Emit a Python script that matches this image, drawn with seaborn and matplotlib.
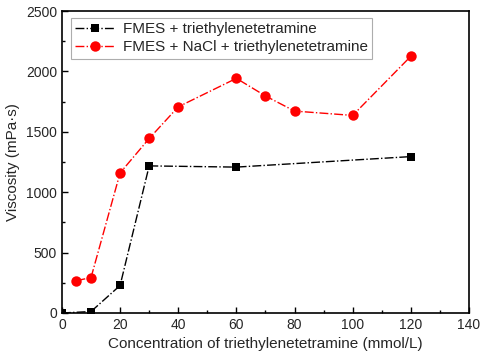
import numpy as np
import pandas as pd
import matplotlib
matplotlib.use("Agg")
import matplotlib.pyplot as plt
from matplotlib.ticker import MultipleLocator
import seaborn as sns

# data
conc_black = [0, 10, 20, 30, 60, 120]
visc_black = [0, 12, 228, 1218, 1208, 1295]
conc_red = [5, 10, 20, 30, 40, 60, 70, 80, 100, 120]
visc_red = [268, 293, 1160, 1445, 1707, 1943, 1797, 1672, 1636, 2126]
label_black = "FMES + triethylenetetramine"
label_red = "FMES + NaCl + triethylenetetramine"

sns.set_style("ticks")
plt.rcParams['font.family'] = ['Liberation Sans', 'DejaVu Sans']

fig = plt.figure(figsize=(4.84, 3.62), dpi=100)
ax = fig.add_axes([0.128, 0.1354, 0.841, 0.834])

sns.lineplot(x=conc_black, y=visc_black, ax=ax, color="black", linestyle="-.",
             marker="s", markersize=6, markeredgewidth=0, linewidth=1,
             label=label_black)
sns.lineplot(x=conc_red, y=visc_red, ax=ax, color="red", linestyle="-.",
             marker="o", markersize=7.5, markeredgewidth=0, linewidth=1,
             label=label_red)

ax.set_xlim(0, 140)
ax.set_ylim(0, 2500)
ax.xaxis.set_major_locator(MultipleLocator(20))
ax.xaxis.set_minor_locator(MultipleLocator(10))
ax.yaxis.set_major_locator(MultipleLocator(500))
ax.yaxis.set_minor_locator(MultipleLocator(250))
ax.tick_params(which="both", direction="in", labelsize=10, color="black")
ax.tick_params(which="major", length=4, width=1)
ax.tick_params(which="minor", length=2.5, width=1)
for s in ax.spines.values():
    s.set_linewidth(1.2)
    s.set_color("black")

ax.set_xlabel("Concentration of triethylenetetramine (mmol/L)", fontsize=11)
ax.set_ylabel("Viscosity (mPa·s)", fontsize=11)

leg = ax.legend(loc="upper left", bbox_to_anchor=(0.022, 0.978), fontsize=11,
                frameon=True, fancybox=False, handlelength=2.6,
                borderpad=0.3, labelspacing=0.25, handletextpad=0.5,
                borderaxespad=0)
leg.get_frame().set_edgecolor("#999999")
leg.get_frame().set_linewidth(0.8)

fig.savefig("out.png", dpi=100)
